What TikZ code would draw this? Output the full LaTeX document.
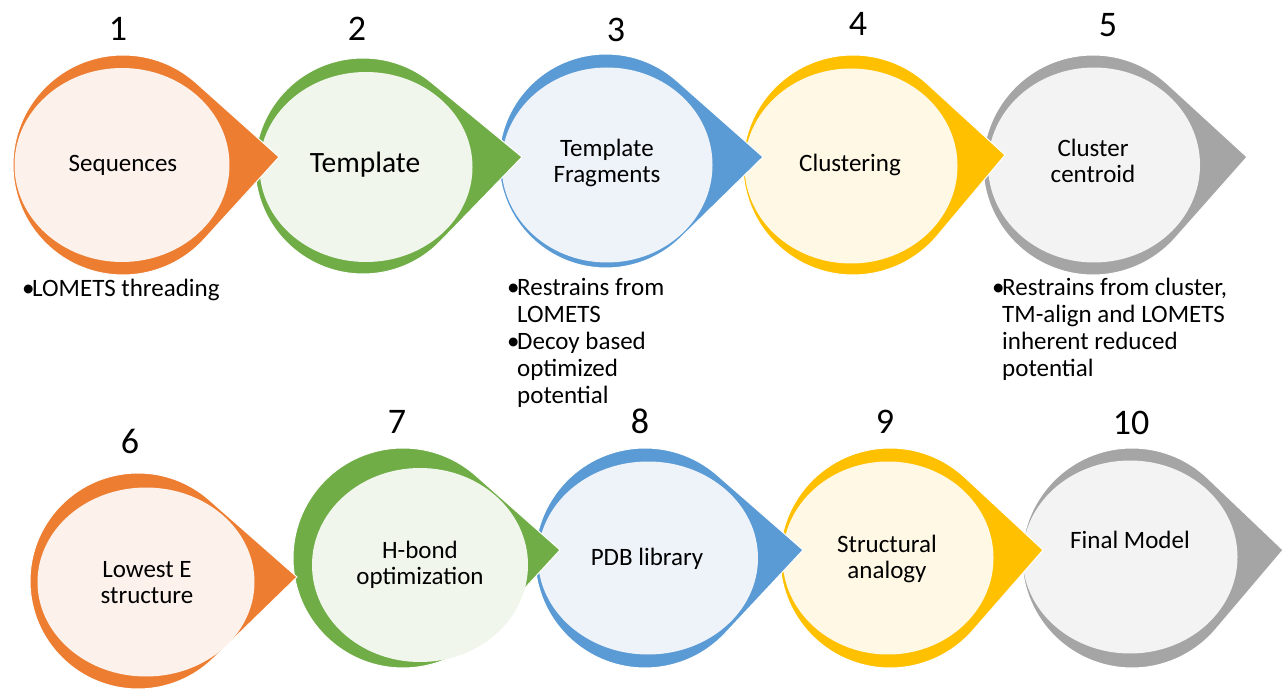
\documentclass[tikz,border=0pt]{standalone}
\usepackage{fontspec}
\setmainfont{Carlito}
\usetikzlibrary{shapes.geometric}
\definecolor{orgD}{HTML}{ED7D31}\definecolor{orgL}{HTML}{FCF1EB}
\definecolor{grnD}{HTML}{70AD47}\definecolor{grnL}{HTML}{F0F6EC}
\definecolor{bluD}{HTML}{5B9BD5}\definecolor{bluL}{HTML}{EEF3FA}
\definecolor{yelD}{HTML}{FFC000}\definecolor{yelL}{HTML}{FFF8E5}
\definecolor{gryD}{HTML}{A5A5A5}\definecolor{gryL}{HTML}{F3F3F3}
% teardrop: cx, cy, R, tipx, tipy, colour (pixel coords, y downwards)
\newcommand\teardrop[6]{%
  \pgfmathsetmacro\tdx{(#4-#1)/100}%
  \pgfmathsetmacro\tdy{(#2-#5)/100}%
  \pgfmathsetmacro\tdd{100*sqrt(\tdx*\tdx+\tdy*\tdy)}%
  \pgfmathsetmacro\tal{atan2(\tdy,\tdx)}%
  \pgfmathsetmacro\tbe{acos(#3/\tdd)}%
  \pgfmathsetmacro\tsa{\tal+\tbe}%
  \pgfmathsetmacro\tea{\tal+360-\tbe}%
  \fill[#6, draw=white, line width=1pt] ([shift={(\tsa:#3pt)}]#1pt,-#2pt)
    arc[start angle=\tsa, end angle=\tea, radius=#3pt] -- (#4pt,-#5pt) -- cycle;%
}
\newcommand\bu{\makebox[10pt][l]{•}}
\newcommand\hi{\hspace*{10pt}}
\newcommand\twol[2]{\begin{tabular}[t]{@{}c@{}}#1\\#2\end{tabular}}
\begin{document}
\begin{tikzpicture}[
  lbl/.style={font=\fontsize{25}{26}\selectfont, inner sep=0pt, anchor=base},
  biglbl/.style={font=\fontsize{29.5}{31}\selectfont, inner sep=0pt, anchor=base},
  num/.style={font=\fontsize{36}{38}\selectfont, inner sep=0pt, anchor=base},
  bul/.style={font=\fontsize{25}{27}\selectfont, inner sep=0pt, anchor=base west},
  disc/.style={ellipse, inner sep=0pt, outer sep=0pt, draw=none}
]
\useasboundingbox (0,0) rectangle (1284pt,-692pt);
\fill[white] (0,0) rectangle (1284pt,-692pt);

% ---------- row 1 (drawn right to left so tips overlap the next shape)
\teardrop{1093}{165}{110}{1247}{157}{gryD}
\node[disc, fill=gryL, minimum width=212pt, minimum height=195pt] (e5) at (1094pt,-165pt) {};
\teardrop{853}{165}{110}{1005}{155}{yelD}
\node[disc, fill=yelL, minimum width=213pt, minimum height=195pt] (e4) at (851pt,-166pt) {};
\teardrop{606}{161}{107}{763}{157}{bluD}
\node[disc, fill=bluL, minimum width=211pt, minimum height=195pt] (e3) at (607pt,-165pt) {};
\teardrop{363}{166}{108}{522}{157}{grnD}
\node[disc, fill=grnL, minimum width=213pt, minimum height=190pt] (e2) at (366pt,-167pt) {};
\teardrop{123}{165}{110}{279}{157}{orgD}
\node[disc, fill=orgL, minimum width=215pt, minimum height=194pt] (e1) at (122pt,-165pt) {};

% ---------- row 2
\teardrop{1132}{558}{110}{1283}{550}{gryD}
\node[disc, fill=gryL, minimum width=215pt, minimum height=193pt] (e10) at (1130pt,-557pt) {};
\teardrop{890}{558}{110}{1043}{550}{yelD}
\node[disc, fill=yelL, minimum width=211pt, minimum height=193pt] (e9) at (888pt,-558pt) {};
\teardrop{645}{558}{110}{803}{550}{bluD}
\node[disc, fill=bluL, minimum width=220pt, minimum height=193pt] (e8) at (648pt,-558pt) {};
\teardrop{403}{558}{110}{560}{550}{grnD}
\node[disc, fill=grnL, minimum width=216pt, minimum height=194pt] (e7) at (420pt,-565pt) {};
\teardrop{138}{581}{108}{297}{577}{orgD}
\node[disc, fill=orgL, minimum width=217pt, minimum height=189pt] (e6) at (146pt,-582pt) {};

% ---------- labels inside
\node[lbl] (t1) at (123pt,-172pt) {Sequences};
\node[biglbl] (t2) at (365pt,-173pt) {Template};
\node[lbl] (t3) at (607pt,-157pt) {\twol{Template}{Fragments}};
\node[lbl] (t4) at (850pt,-172pt) {Clustering};
\node[lbl] (t5) at (1093pt,-157pt) {\twol{Cluster}{centroid}};
\node[lbl] (t6) at (147pt,-577pt) {\twol{Lowest E}{structure}};
\node[lbl] (t7) at (420pt,-558pt) {\twol{H-bond}{optimization}};
\node[lbl] (t8) at (647pt,-565pt) {PDB library};
\node[lbl] (t9) at (887pt,-552pt) {\twol{Structural}{analogy}};
\node[lbl] (t10) at (1130pt,-548pt) {Final Model};

% ---------- step numbers
\node[num] (n1) at (118pt,-41pt) {1};
\node[num] (n2) at (357pt,-41pt) {2};
\node[num] (n3) at (616pt,-42pt) {3};
\node[num] (n4) at (858pt,-36pt) {4};
\node[num] (n5) at (1108pt,-37pt) {5};
\node[num] (n6) at (130pt,-453pt) {6};
\node[num] (n7) at (397pt,-433pt) {7};
\node[num] (n8) at (640pt,-433pt) {8};
\node[num] (n9) at (885pt,-433pt) {9};
\node[num] (n10) at (1131pt,-434pt) {10};

% ---------- bullet notes
\node[bul] (b1) at (22pt,-297pt) {\bu LOMETS threading};
\node[bul] (b3) at (507pt,-296pt) {\begin{tabular}[t]{@{}l@{}}\bu Restrains from\\ \hi LOMETS\\ \bu Decoy based\\ \hi optimized\\ \hi potential\end{tabular}};
\node[bul] (b5) at (992pt,-296pt) {\begin{tabular}[t]{@{}l@{}}\bu Restrains from cluster,\\ \hi TM-align and LOMETS\\ \hi inherent reduced\\ \hi potential\end{tabular}};
\end{tikzpicture}
\end{document}
